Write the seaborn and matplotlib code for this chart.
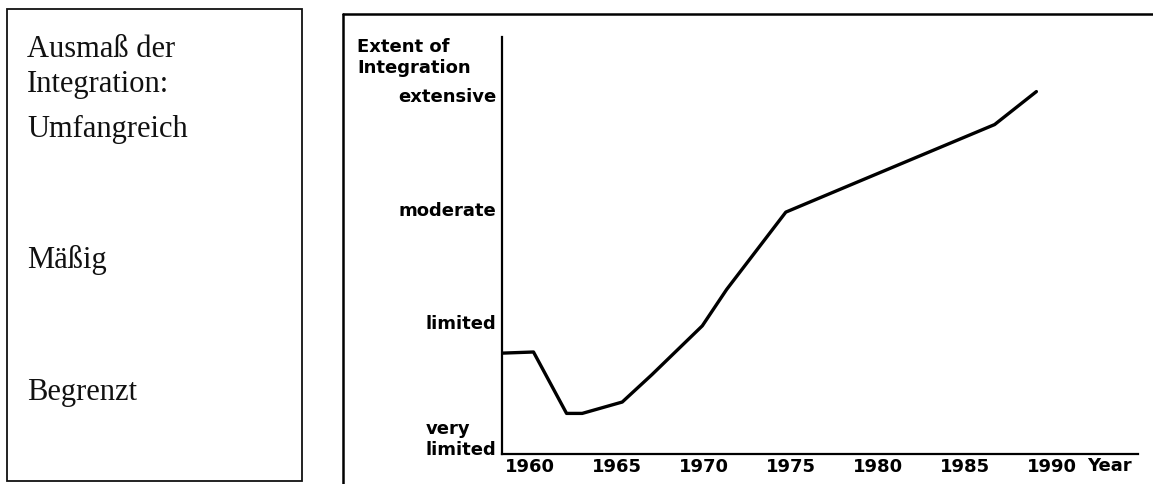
import matplotlib
matplotlib.use("Agg")
import matplotlib.pyplot as plt
import seaborn as sns
import pandas as pd
from matplotlib.patches import Rectangle
from matplotlib.lines import Line2D

# Data
years = [1958.4, 1960.2, 1962.1, 1963.0, 1965.3, 1967.0, 1969.9, 1971.3, 1972.3,
         1974.7, 1978.9, 1986.7, 1989.1]
extent = [0.72, 0.73, 0.19, 0.19, 0.29, 0.53, 0.96, 1.28, 1.48,
          1.96, 2.23, 2.73, 3.02]
year_ticks = [1960, 1965, 1970, 1975, 1980, 1985, 1990]
level_ticks = [0, 1, 2, 3]
level_labels = ["very\nlimited", "limited", "moderate", "extensive"]
german_lines = ["Ausmaß der", "Integration:", "Umfangreich", "Mäßig", "Begrenzt"]
german_baselines = [57, 92, 137, 268, 400]

sns.set_style("white")
plt.rcParams["font.family"] = ["DejaVu Sans"]
plt.rcParams["text.color"] = "black"
plt.rcParams["xtick.color"] = "black"
plt.rcParams["ytick.color"] = "black"

W, H = 1153, 485
fig = plt.figure(figsize=(W / 100, H / 100), dpi=100)

# Left box with German labels
fig.patches.append(Rectangle((7 / W, 1 - 482 / H), 295 / W, 472 / H, transform=fig.transFigure,
                             fill=False, edgecolor="#111111", linewidth=1.3))
for txt, yb in zip(german_lines, german_baselines):
    fig.text(27 / W, 1 - yb / H, txt, family="Liberation Serif", fontsize=22,
             color="#111111", va="baseline", ha="left")

# Frame of the scanned figure (top and left edges)
fig.lines.append(Line2D([343 / W, 1.0], [1 - 15 / H, 1 - 15 / H], transform=fig.transFigure,
                        color="black", linewidth=1.8))
fig.lines.append(Line2D([343 / W, 343 / W], [1 - 15 / H, 0.0], transform=fig.transFigure,
                        color="black", linewidth=1.8))

# Main chart
ax = fig.add_axes([502 / W, 30 / H, 636 / W, 417 / H])
df = pd.DataFrame({"year": years, "extent": extent})
sns.lineplot(data=df, x="year", y="extent", ax=ax, color="black", linewidth=2.4, sort=False)

ax.set_xlim(1958.39, 1994.94)
ax.set_ylim(-0.167, 3.5)
for side in ["top", "right"]:
    ax.spines[side].set_visible(False)
for side in ["left", "bottom"]:
    ax.spines[side].set_linewidth(1.6)
    ax.spines[side].set_color("black")

ax.set_xticks(year_ticks)
ax.set_xticklabels([str(y) for y in year_ticks], fontsize=13, fontweight="bold")
ax.set_yticks(level_ticks)
ax.set_yticklabels(level_labels, fontsize=13, fontweight="bold")
ax.get_yticklabels()[0].set_multialignment("left")
ax.tick_params(axis="both", length=0, labelcolor="black")
ax.tick_params(axis="x", pad=2)
ax.tick_params(axis="y", pad=4)
ax.set_xlabel("")
ax.set_ylabel("")

fig.text(1087 / W, 1 - 466 / H, "Year", fontsize=13, fontweight="bold", va="center", ha="left")
fig.text(357 / W, 1 - 47 / H, "Extent of", fontsize=13, fontweight="bold", va="center", ha="left")
fig.text(357 / W, 1 - 68 / H, "Integration", fontsize=13, fontweight="bold", va="center", ha="left")

fig.savefig("out.png", dpi=100)
